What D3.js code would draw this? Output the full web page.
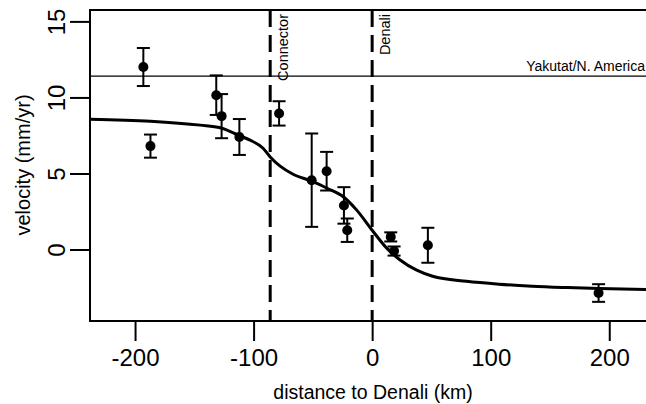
<!DOCTYPE html>
<html><head><meta charset="utf-8">
<script src="https://cdn.jsdelivr.net/npm/d3@7"></script>
<style>
html,body{margin:0;padding:0;background:#fff;}
svg{display:block;font-family:"Liberation Sans",Arial,Helvetica,sans-serif;}
</style></head>
<body>
<svg id="chart" width="646" height="404"></svg>
<script>
// Observations: distance to Denali (km), velocity (mm/yr), 1-sigma error
const distance = [-193, -187, -131.5, -127, -112, -78.5, -51, -38.4, -23.8, -21, 15.7, 18.5, 47, 191];
const velocity = [12.0, 6.8, 10.15, 8.77, 7.4, 8.95, 4.56, 5.15, 2.9, 1.27, 0.83, -0.1, 0.28, -2.86];
const errors   = [1.25, 0.76, 1.3, 1.45, 1.18, 0.8, 3.07, 1.27, 1.2, 0.77, 0.3, 0.3, 1.15, 0.58];

// Model curve
const curveX = [-238, -187, -145, -128, -112, -103, -92, -86, -77.6, -66.7, -51, -38, -23.8, -13, 0, 12.3, 23.3, 37.6, 51, 79.6, 107, 135, 163.7, 191.5, 231];
const curveY = [8.57, 8.44, 8.18, 8.01, 7.49, 7.19, 6.66, 6.09, 5.48, 4.95, 4.49, 4.03, 3.44, 2.59, 1.27, 0.09, -0.67, -1.36, -1.76, -2.09, -2.28, -2.41, -2.5, -2.57, -2.63];

const xTicks = [-200, -100, 0, 100, 200];
const yTicks = [0, 5, 10, 15];

const faults = [{x: -86, label: "Connector"}, {x: 0, label: "Denali"}];
const referenceVelocity = 11.4;
const referenceLabel = "Yakutat/N. America";

const svg = d3.select("#chart");
const L = 90, R = 646, T = 10, B = 321;
const x = d3.scaleLinear().domain([-238, 231]).range([L, R]);
const y = d3.scaleLinear().domain([-4.7, 15.75]).range([B, T]);
const fmt = d => String(d);

svg.append("defs").append("clipPath").attr("id", "clip")
  .append("rect").attr("x", L).attr("y", T).attr("width", R - L).attr("height", B - T);

// Axes
const xAxis = svg.append("g").attr("transform", `translate(0,${B})`)
  .call(d3.axisBottom(x).tickValues(xTicks).tickSize(20).tickPadding(6).tickFormat(fmt));
xAxis.select(".domain").remove();
xAxis.selectAll("line").attr("stroke", "#000").attr("stroke-width", 2);
xAxis.selectAll("text").attr("font-size", 24).attr("fill", "#000")
  .attr("font-family", "Liberation Sans, Arial, sans-serif").attr("dy", "0.71em").attr("y", 28);

const yAxis = svg.append("g").attr("transform", `translate(${L},0)`)
  .call(d3.axisLeft(y).tickValues(yTicks).tickSize(20).tickFormat(fmt));
yAxis.select(".domain").remove();
yAxis.selectAll("line").attr("stroke", "#000").attr("stroke-width", 2);
yAxis.selectAll("text").attr("font-size", 24).attr("fill", "#000")
  .attr("font-family", "Liberation Sans, Arial, sans-serif")
  .attr("x", null).attr("dy", null)
  .attr("text-anchor", "middle")
  .attr("transform", "translate(-25,0) rotate(-90)")
  .attr("y", 0);

// Box (left, top, bottom)
svg.append("path")
  .attr("d", `M${R + 2},${T}H${L}V${B}H${R + 2}`)
  .attr("fill", "none").attr("stroke", "#000").attr("stroke-width", 2);

// Axis titles
svg.append("text").attr("x", 373).attr("y", 399).attr("text-anchor", "middle")
  .attr("font-size", 19.5).attr("fill", "#000").text("distance to Denali (km)");
svg.append("text").attr("transform", `translate(30,165) rotate(-90)`).attr("text-anchor", "middle")
  .attr("font-size", 20).attr("fill", "#000").text("velocity (mm/yr)");

const plot = svg.append("g").attr("clip-path", "url(#clip)");

// Reference velocity line
plot.append("line").attr("x1", L).attr("x2", R).attr("y1", y(referenceVelocity)).attr("y2", y(referenceVelocity))
  .attr("stroke", "#000").attr("stroke-width", 1.2);
svg.append("text").attr("x", 645).attr("y", y(referenceVelocity) - 5.5).attr("text-anchor", "end")
  .attr("font-size", 14).attr("fill", "#000").text(referenceLabel);

// Fault lines
faults.forEach(f => {
  plot.append("line").attr("x1", x(f.x)).attr("x2", x(f.x)).attr("y1", T).attr("y2", B)
    .attr("stroke", "#000").attr("stroke-width", 3).attr("stroke-dasharray", "17,8");
  svg.append("text").attr("transform", `translate(${x(f.x) + 17.5},${T + 4}) rotate(-90)`)
    .attr("text-anchor", "end").attr("font-size", 14.5).attr("fill", "#000").text(f.label);
});

// Model curve
const curveData = curveX.map((d, i) => [d, curveY[i]]);
plot.append("path").datum(curveData)
  .attr("d", d3.line().x(d => x(d[0])).y(d => y(d[1])).curve(d3.curveMonotoneX))
  .attr("fill", "none").attr("stroke", "#000").attr("stroke-width", 3);

// Observations
const obs = distance.map((d, i) => ({x: d, v: velocity[i], e: errors[i]}));
const g = plot.selectAll("g.obs").data(obs).join("g").attr("class", "obs");
g.append("line").attr("x1", d => x(d.x)).attr("x2", d => x(d.x))
  .attr("y1", d => y(d.v + d.e)).attr("y2", d => y(d.v - d.e)).attr("stroke", "#000").attr("stroke-width", 2);
g.append("line").attr("x1", d => x(d.x) - 6.5).attr("x2", d => x(d.x) + 6.5)
  .attr("y1", d => y(d.v + d.e)).attr("y2", d => y(d.v + d.e)).attr("stroke", "#000").attr("stroke-width", 2);
g.append("line").attr("x1", d => x(d.x) - 6.5).attr("x2", d => x(d.x) + 6.5)
  .attr("y1", d => y(d.v - d.e)).attr("y2", d => y(d.v - d.e)).attr("stroke", "#000").attr("stroke-width", 2);
g.append("circle").attr("cx", d => x(d.x)).attr("cy", d => y(d.v)).attr("r", 5).attr("fill", "#000");
</script>
</body></html>
